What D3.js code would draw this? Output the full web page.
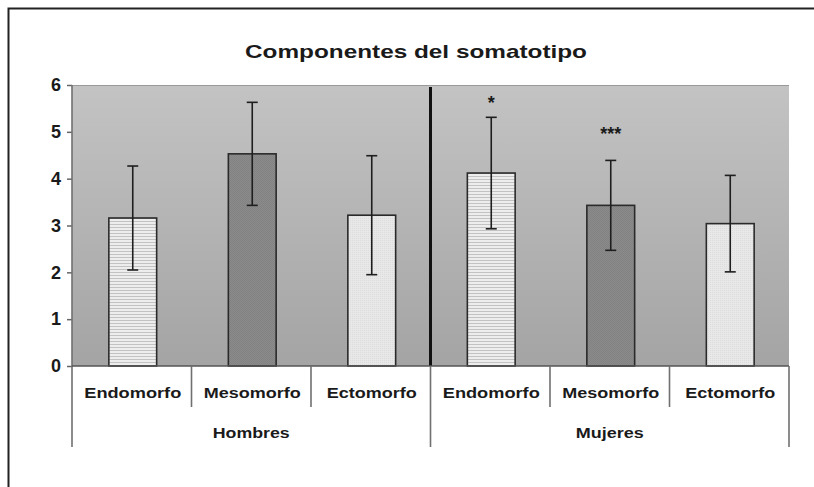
<!DOCTYPE html>
<html>
<head>
<meta charset="utf-8">
<script src="https://cdn.jsdelivr.net/npm/d3@7"></script>
<style>
  html, body { margin: 0; padding: 0; background: #fff; overflow: hidden; }
  #chart { position: absolute; left: 0; top: 0; }
  svg { display: block; }
  text { font-family: "Liberation Sans", Arial, sans-serif; fill: #1a1a1a; }
</style>
</head>
<body>
<div id="chart"></div>
<script>
// data
var groups = ["Hombres", "Mujeres"];
var components = ["Endomorfo", "Mesomorfo", "Ectomorfo"];
var means = [3.16, 4.53, 3.22, 4.12, 3.43, 3.04];
var sds = [1.11, 1.10, 1.27, 1.19, 0.96, 1.03];
var signif = ["", "", "", "*", "***", ""];
var signifAt = [null, null, null, 5.7, 5.03, null]; // level of the significance marks
var yTicks = [0, 1, 2, 3, 4, 5, 6];

var width = 814,
    height = 487;
var margin = { top: 85, right: 25, bottom: 121, left: 72 };

var rows = [];
groups.forEach(function (g, gi) {
    components.forEach(function (c, ci) {
        var i = gi * components.length + ci;
        rows.push({ key: g + "-" + c, group: g, comp: c, ci: ci, mean: means[i], sd: sds[i], sig: signif[i], sigAt: signifAt[i] });
    });
});

var svg = d3.select("#chart")
    .append("svg")
    .attr("width", width)
    .attr("height", height);

svg.append("rect")
    .attr("width", width).attr("height", height)
    .attr("fill", "#fff");

// outer frame: only left and top edges are inside the picture
svg.append("path")
    .attr("d", "M8.5," + height + "V8.5H" + width)
    .attr("fill", "none")
    .attr("stroke", "#222")
    .attr("stroke-width", 2);

var defs = svg.append("defs");

var grad = defs.append("linearGradient")
    .attr("id", "bg").attr("x1", 0).attr("y1", 0).attr("x2", 0).attr("y2", 1);
grad.append("stop").attr("offset", "0%").attr("stop-color", "#c3c3c3");
grad.append("stop").attr("offset", "100%").attr("stop-color", "#a4a4a4");

// horizontal stripes
var p0 = defs.append("pattern").attr("id", "pat0")
    .attr("patternUnits", "userSpaceOnUse").attr("width", 4).attr("height", 3);
p0.append("rect").attr("width", 4).attr("height", 3).attr("fill", "#ededed");
p0.append("rect").attr("y", 2).attr("width", 4).attr("height", 1).attr("fill", "#c2c2c2");

// dark checker
var p1 = defs.append("pattern").attr("id", "pat1")
    .attr("patternUnits", "userSpaceOnUse").attr("width", 2).attr("height", 2);
p1.append("rect").attr("width", 2).attr("height", 2).attr("fill", "#8b8b8b");
p1.append("rect").attr("width", 1).attr("height", 1).attr("fill", "#828282");
p1.append("rect").attr("x", 1).attr("y", 1).attr("width", 1).attr("height", 1).attr("fill", "#828282");

// light dotted
var p2 = defs.append("pattern").attr("id", "pat2")
    .attr("patternUnits", "userSpaceOnUse").attr("width", 2).attr("height", 2);
p2.append("rect").attr("width", 2).attr("height", 2).attr("fill", "#e8e8e8");
p2.append("rect").attr("width", 1).attr("height", 1).attr("fill", "#dcdcdc");

var x0 = margin.left,
    x1 = width - margin.right,
    yTop = margin.top,
    yBot = height - margin.bottom;

var x = d3.scaleBand()
    .domain(rows.map(d => d.key))
    .range([x0, x1])
    .padding(0);

var y = d3.scaleLinear()
    .domain([0, 6])
    .range([yBot, yTop]);

// plot background
svg.append("rect")
    .attr("x", x0).attr("y", yTop)
    .attr("width", x1 - x0).attr("height", yBot - yTop)
    .attr("fill", "url(#bg)");
svg.append("line")
    .attr("x1", x0).attr("x2", x1).attr("y1", yTop + 0.5).attr("y2", yTop + 0.5)
    .attr("stroke", "#9a9a9a");

// title
svg.append("text")
    .attr("x", 416).attr("y", 58)
    .attr("text-anchor", "middle")
    .attr("font-size", "19px")
    .attr("font-weight", "bold")
    .attr("textLength", 342)
    .attr("lengthAdjust", "spacingAndGlyphs")
    .text("Componentes del somatotipo");

// bars
var bw = x.bandwidth() * 0.4;
svg.append("g").selectAll("rect")
    .data(rows)
    .enter()
    .append("rect")
    .attr("x", d => x(d.key) + (x.bandwidth() - bw) / 2 + 1)
    .attr("y", d => y(d.mean))
    .attr("width", bw)
    .attr("height", d => y(0) - y(d.mean))
    .attr("fill", d => "url(#pat" + d.ci + ")")
    .attr("stroke", "#2a2a2a")
    .attr("stroke-width", 1.6);

// error bars
var eb = svg.append("g").attr("stroke", "#1e1e1e").attr("stroke-width", 1.6);
rows.forEach(function (d) {
    var cx = x(d.key) + x.bandwidth() / 2 + 1;
    eb.append("line").attr("x1", cx).attr("x2", cx)
        .attr("y1", y(d.mean + d.sd)).attr("y2", y(d.mean - d.sd));
    [d.mean + d.sd, d.mean - d.sd].forEach(function (v) {
        eb.append("line").attr("x1", cx - 5.5).attr("x2", cx + 5.5)
            .attr("y1", y(v)).attr("y2", y(v));
    });
    if (d.sig) {
        svg.append("text")
            .attr("x", cx)
            .attr("y", y(d.sigAt) + 10)
            .attr("text-anchor", "middle")
            .attr("font-size", "18px")
            .attr("font-weight", "bold")
            .attr("fill", "#2a2a2a")
            .text(d.sig);
    }
});

// group divider
var divX = x(rows[components.length].key);
svg.append("line")
    .attr("x1", divX).attr("x2", divX)
    .attr("y1", yTop + 2).attr("y2", yBot)
    .attr("stroke", "#111").attr("stroke-width", 3);

// y axis
var yAxis = svg.append("g")
    .attr("transform", "translate(" + x0 + ",0)")
    .call(d3.axisLeft(y).tickValues(yTicks).tickSize(5).tickPadding(6).tickFormat(d3.format("d")));
yAxis.select(".domain").remove();
yAxis.selectAll(".tick line").attr("stroke", "#666").attr("stroke-width", 1.5);
yAxis.selectAll(".tick text")
    .attr("font-size", "18px")
    .attr("font-weight", "bold")
    .attr("fill", "#1a1a1a")
    .attr("font-family", "'Liberation Sans', Arial, sans-serif");

// axis lines and category separators
var ax = svg.append("g").attr("stroke", "#707070").attr("stroke-width", 1.6);
ax.append("line").attr("x1", x0).attr("x2", x0).attr("y1", yTop).attr("y2", 447);
ax.append("line").attr("x1", x0).attr("x2", x1).attr("y1", yBot).attr("y2", yBot).attr("stroke", "#555");
rows.forEach(function (d, i) {
    if (i === 0) return;
    var sx = x(d.key);
    ax.append("line").attr("x1", sx).attr("x2", sx)
        .attr("y1", yBot).attr("y2", d.ci === 0 ? 447 : 407);
});
ax.append("line").attr("x1", x1).attr("x2", x1).attr("y1", yBot).attr("y2", 447);

// category labels
var labelLen = { Endomorfo: 97, Mesomorfo: 97, Ectomorfo: 90 };
svg.append("g").selectAll("text")
    .data(rows)
    .enter()
    .append("text")
    .attr("x", d => x(d.key) + x.bandwidth() / 2 + 1)
    .attr("y", 398)
    .attr("text-anchor", "middle")
    .attr("font-size", "15px")
    .attr("font-weight", "bold")
    .attr("fill", "#2a2a2a")
    .attr("textLength", d => labelLen[d.comp])
    .attr("lengthAdjust", "spacingAndGlyphs")
    .text(d => d.comp);

// group labels
var groupLen = [77, 68];
groups.forEach(function (g, gi) {
    var first = x(rows[gi * 3].key),
        last = x(rows[gi * 3 + 2].key) + x.bandwidth();
    svg.append("text")
        .attr("x", (first + last) / 2)
        .attr("y", 438)
        .attr("text-anchor", "middle")
        .attr("font-size", "15px")
        .attr("font-weight", "bold")
        .attr("fill", "#2a2a2a")
        .attr("textLength", groupLen[gi])
        .attr("lengthAdjust", "spacingAndGlyphs")
        .text(g);
});
</script>
</body>
</html>
